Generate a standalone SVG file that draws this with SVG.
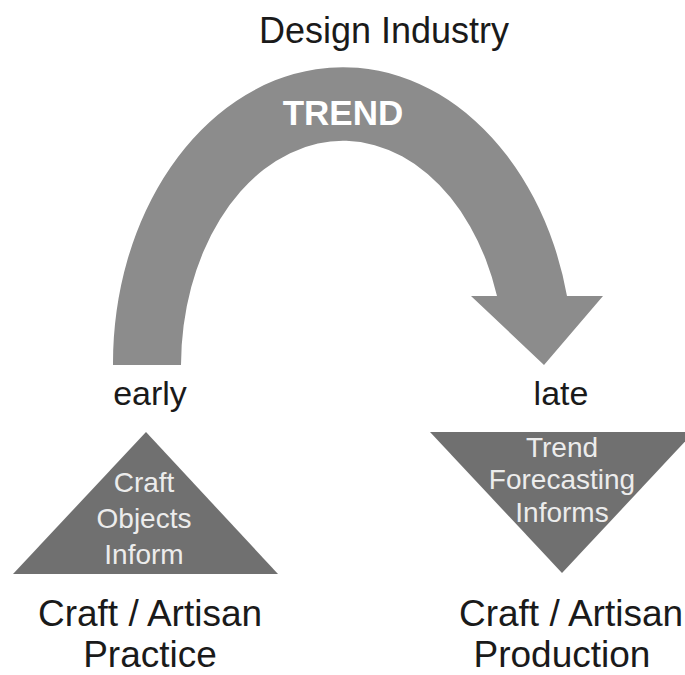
<svg xmlns="http://www.w3.org/2000/svg" width="685" height="675" viewBox="0 0 685 675">
<style>
.lbl{font-family:"Liberation Sans",Arial,sans-serif;fill:#1a1a1a;text-anchor:middle}
.inn{font-family:"Liberation Sans",Arial,sans-serif;fill:#ececec;text-anchor:middle;font-size:28px}
.tri{fill:#707070}
</style>
<rect width="685" height="675" fill="#ffffff"/>
<g id="design-industry"><text class="lbl" x="384" y="43" font-size="36">Design Industry</text></g>
<g id="connectors">
<path id="trend-arrow" d="M113 365 A230 296 0 0 1 567 296 L603 296 L544 365 L471 296 L497 296 A162 225 0 0 0 181 365 Z" fill="#8c8c8c"/>
<text x="343" y="125" font-family="Liberation Sans,Arial,sans-serif" font-weight="bold" font-size="35" fill="#ffffff" text-anchor="middle">TREND</text>
</g>
<g id="early"><text class="lbl" x="150" y="405" font-size="34">early</text></g>
<g id="late"><text class="lbl" x="561" y="405" font-size="34">late</text></g>
<g id="craft-objects">
<polygon class="tri" points="146,432 278,574 13,574"/>
<text class="inn" x="144" y="492">Craft</text>
<text class="inn" x="144" y="528">Objects</text>
<text class="inn" x="144" y="564">Inform</text>
</g>
<g id="trend-forecasting">
<polygon class="tri" points="430,432 694,432 562,573"/>
<text class="inn" x="562" y="457">Trend</text>
<text class="inn" x="562" y="489">Forecasting</text>
<text class="inn" x="562" y="522">Informs</text>
</g>
<g id="practice">
<text class="lbl" x="150" y="626" font-size="37">Craft / Artisan</text>
<text class="lbl" x="150" y="667" font-size="37">Practice</text>
</g>
<g id="production">
<text class="lbl" x="571" y="626" font-size="37">Craft / Artisan</text>
<text class="lbl" x="562" y="667" font-size="37">Production</text>
</g>
</svg>
